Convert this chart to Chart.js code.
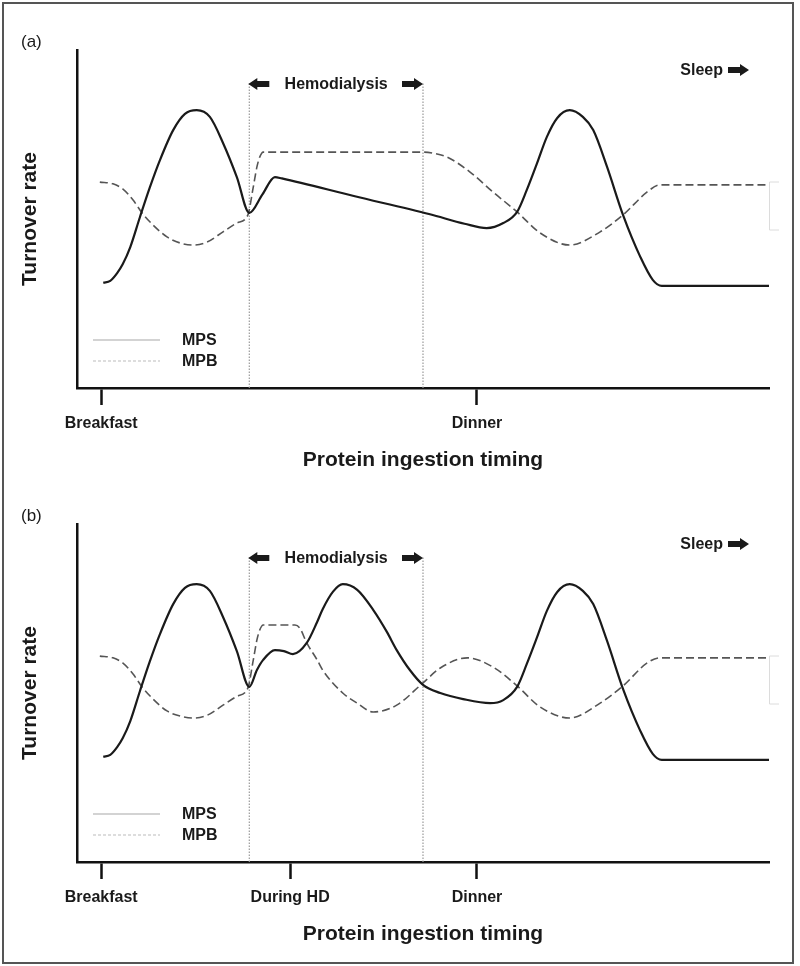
<!DOCTYPE html>
<html>
<head>
<meta charset="utf-8">
<title>Protein ingestion timing</title>
<script src="https://cdn.jsdelivr.net/npm/chart.js@4.4.1/dist/chart.umd.min.js"></script>
<style>
  html, body { margin: 0; padding: 0; background: #fff; }
  body { width: 800px; height: 966px; position: relative; overflow: hidden; }
  .frame { position: absolute; left: 2px; top: 2px; width: 792px; height: 962px; border: 2px solid #555; box-sizing: border-box; }
  canvas { position: absolute; left: 0; }
  #panelA { top: 0; }
  #panelB { top: 474px; }
</style>
</head>
<body>
<div class="frame"></div>
<canvas id="panelA" width="800" height="474"></canvas>
<canvas id="panelB" width="800" height="474"></canvas>
<script>
// time axis is arbitrary (0-100), turnover rate is arbitrary (0-100)

// hemodialysis window and height of its marker lines
const hdWindow = [24.9, 50.0];
const hdTop = 90.2;

// x ticks
const ticksA = [3.5, 57.8];
const tickLabelsA = ['Breakfast', 'Dinner'];
const ticksB = [3.5, 30.8, 57.8];
const tickLabelsB = ['Breakfast', 'During HD', 'Dinner'];

// (a) MPS
const mpsA_x = [3.8, 4.8, 5.8, 6.6, 7.7, 9.1, 10.5, 12.0, 13.9, 15.6, 17.3, 19.2, 21.1, 23.1, 24.9, 26.8, 28.6, 29.6, 40.0, 51.0, 56.0, 59.2, 61.6, 63.6, 65.0, 66.5, 67.9, 69.4, 71.2, 73.1, 74.6, 76.6, 78.9, 81.4, 83.2, 84.5, 100];
const mpsA_y = [31.1, 31.7, 34.0, 36.6, 41.7, 50.6, 59.2, 67.5, 76.3, 81.1, 82.2, 80.2, 72.5, 62.4, 51.8, 57.3, 62.4, 62.0, 56.8, 51.4, 48.6, 47.3, 48.8, 52.1, 58.6, 66.6, 74.3, 79.9, 82.2, 80.2, 76.3, 65.4, 51.2, 38.8, 32.0, 30.2, 30.2];

// (a) MPB
const mpbA_x = [3.3, 5.2, 6.6, 8.1, 9.4, 11.0, 13.0, 14.9, 16.8, 18.8, 21.1, 23.1, 24.7, 25.4, 26.0, 26.4, 26.9, 50.0, 51.4, 53.5, 56.8, 60.1, 63.6, 66.9, 71.2, 75.6, 78.9, 82.4, 84.2, 100];
const mpbA_y = [60.9, 60.4, 58.9, 55.6, 51.8, 48.2, 44.7, 42.9, 42.3, 43.2, 46.2, 48.8, 51.2, 58.6, 65.4, 68.3, 69.8, 69.8, 69.5, 68.3, 63.9, 58.0, 52.1, 45.9, 42.3, 46.2, 51.2, 58.0, 60.1, 60.1];

// (b) MPS
const mpsB_x = [3.8, 4.8, 5.8, 6.6, 7.7, 9.1, 10.5, 12.0, 13.9, 15.6, 17.3, 19.2, 21.1, 23.1, 24.9, 26.0, 26.9, 28.6, 29.9, 31.2, 33.2, 34.7, 35.5, 37.0, 38.4, 40.5, 42.8, 44.8, 46.2, 48.1, 50.0, 52.5, 55.8, 59.7, 61.6, 63.6, 65.0, 66.5, 67.9, 69.4, 71.2, 73.1, 74.6, 76.6, 78.9, 81.4, 83.2, 84.5, 100];
const mpsB_y = [31.1, 31.7, 34.0, 36.6, 41.7, 50.6, 59.2, 67.5, 76.3, 81.1, 82.2, 80.2, 72.5, 62.4, 51.8, 56.8, 59.8, 62.7, 62.4, 61.5, 64.8, 71.0, 74.8, 80.0, 82.2, 80.5, 74.6, 68.0, 62.7, 56.8, 52.4, 50.0, 48.2, 47.0, 47.9, 51.8, 58.6, 66.6, 74.3, 79.9, 82.2, 80.2, 76.3, 65.4, 51.2, 38.8, 32.0, 30.2, 30.2];

// (b) MPB
const mpbB_x = [3.3, 5.2, 6.6, 8.1, 9.4, 11.0, 13.0, 14.9, 16.8, 18.8, 21.1, 23.1, 24.7, 25.4, 26.0, 26.4, 26.9, 31.5, 32.2, 33.2, 34.7, 35.5, 38.4, 40.5, 42.8, 46.2, 50.0, 52.5, 56.4, 60.1, 63.6, 66.9, 71.2, 75.6, 78.9, 82.4, 84.2, 100];
const mpbB_y = [60.9, 60.4, 58.9, 55.6, 51.8, 48.2, 44.7, 43.2, 42.6, 43.4, 46.4, 49.0, 51.5, 58.9, 65.7, 68.6, 70.1, 70.1, 69.2, 64.8, 59.8, 56.8, 50.0, 47.0, 44.4, 46.4, 53.0, 57.4, 60.4, 57.7, 52.1, 45.9, 42.6, 47.0, 52.1, 58.9, 60.4, 60.4];

const FONT = '"Liberation Sans", Arial, sans-serif';
Chart.defaults.font.family = FONT;

// block arrow, dir = -1 points left, 1 points right
function drawArrow(ctx, tipX, cy, dir) {
  const head = 9, len = 21, hh = 6, sh = 3;
  ctx.beginPath();
  ctx.moveTo(tipX, cy);
  ctx.lineTo(tipX - dir * head, cy - hh);
  ctx.lineTo(tipX - dir * head, cy - sh);
  ctx.lineTo(tipX - dir * len, cy - sh);
  ctx.lineTo(tipX - dir * len, cy + sh);
  ctx.lineTo(tipX - dir * head, cy + sh);
  ctx.lineTo(tipX - dir * head, cy + hh);
  ctx.closePath();
  ctx.fill();
}

// panel label, hemodialysis / sleep markers and the legend
const annotations = {
  id: 'annotations',
  afterDatasetsDraw(chart, args, opts) {
    const { ctx, chartArea: area, scales: { x, y } } = chart;
    ctx.save();
    ctx.fillStyle = '#1a1a1a';
    ctx.textBaseline = 'alphabetic';

    ctx.font = '17px ' + FONT;
    ctx.textAlign = 'left';
    ctx.fillText(opts.label, 21, area.top - 3);

    // hemodialysis
    const xs = x.getPixelForValue(hdWindow[0]);
    const xe = x.getPixelForValue(hdWindow[1]);
    const ya = y.getPixelForValue(hdTop) + 1;
    drawArrow(ctx, xs - 1, ya, -1);
    drawArrow(ctx, xe, ya, 1);
    ctx.font = 'bold 16px ' + FONT;
    ctx.textAlign = 'center';
    ctx.fillText('Hemodialysis', (xs + xe) / 2, ya + 5);

    // sleep
    const sx = area.right - 20;
    const sy = area.top + 20;
    drawArrow(ctx, sx, sy, 1);
    ctx.textAlign = 'right';
    ctx.fillText('Sleep', sx - 26, sy + 5);

    // legend
    const lx = area.left + 16;
    ctx.lineWidth = 1.2;
    ctx.strokeStyle = '#a8a8a8';
    ctx.beginPath();
    ctx.moveTo(lx, area.bottom - 48);
    ctx.lineTo(lx + 67, area.bottom - 48);
    ctx.stroke();
    ctx.setLineDash([3, 2]);
    ctx.strokeStyle = '#bbb';
    ctx.beginPath();
    ctx.moveTo(lx, area.bottom - 27);
    ctx.lineTo(lx + 67, area.bottom - 27);
    ctx.stroke();
    ctx.setLineDash([]);
    ctx.textAlign = 'left';
    ctx.fillText('MPS', lx + 89, area.bottom - 43);
    ctx.fillText('MPB', lx + 89, area.bottom - 22);

    // faint bracket on the right edge
    ctx.strokeStyle = '#dcdcdc';
    ctx.lineWidth = 1;
    ctx.beginPath();
    ctx.moveTo(area.right + 10, area.top + 132);
    ctx.lineTo(area.right + 0.5, area.top + 132);
    ctx.lineTo(area.right + 0.5, area.top + 180);
    ctx.lineTo(area.right + 10, area.top + 180);
    ctx.stroke();
    ctx.restore();
  }
};

function toPoints(xs, ys) {
  return xs.map((v, i) => ({ x: v, y: ys[i] }));
}

function buildPanel(canvasId, panelLabel, mpsX, mpsY, mpbX, mpbY, tickValues, tickLabels) {
  const hdLine = v => ({
    label: 'HD',
    data: toPoints([v, v], [0, hdTop]),
    borderColor: '#9a9a9a',
    borderWidth: 1.2,
    borderDash: [1.5, 1.5]
  });

  return new Chart(document.getElementById(canvasId), {
    type: 'line',
    data: {
      datasets: [
        {
          label: 'MPS',
          data: toPoints(mpsX, mpsY),
          borderColor: '#1a1a1a',
          borderWidth: 2.2,
          cubicInterpolationMode: 'monotone'
        },
        {
          label: 'MPB',
          data: toPoints(mpbX, mpbY),
          borderColor: '#555',
          borderWidth: 1.6,
          borderDash: [8, 4],
          cubicInterpolationMode: 'monotone'
        },
        hdLine(hdWindow[0]),
        hdLine(hdWindow[1])
      ]
    },
    options: {
      responsive: false,
      animation: false,
      devicePixelRatio: 1,
      layout: { padding: { left: 0, right: 31, top: 50, bottom: 0 } },
      elements: { point: { radius: 0 } },
      plugins: {
        legend: { display: false },
        tooltip: { enabled: false },
        annotations: { label: panelLabel }
      },
      scales: {
        x: {
          type: 'linear',
          min: 0,
          max: 100,
          afterFit: s => { s.height = 86; },
          afterBuildTicks: s => { s.ticks = tickValues.map(v => ({ value: v })); },
          ticks: {
            autoSkip: false,
            maxRotation: 0,
            padding: 9,
            color: '#1a1a1a',
            font: { size: 16, weight: 'bold' },
            callback: v => tickLabels[tickValues.indexOf(v)]
          },
          grid: { drawOnChartArea: false, tickLength: 17, tickWidth: 2.5, tickColor: '#111' },
          border: { color: '#111', width: 2.5 },
          title: {
            display: true,
            text: 'Protein ingestion timing',
            color: '#1a1a1a',
            font: { size: 21, weight: 'bold' },
            padding: { top: 0, bottom: 1.4 }
          }
        },
        y: {
          min: 0,
          max: 100,
          afterFit: s => { s.width = 77; },
          ticks: { display: false },
          grid: { display: false },
          border: { color: '#111', width: 2.5 },
          title: {
            display: true,
            text: 'Turnover rate',
            color: '#1a1a1a',
            font: { size: 21, weight: 'bold' },
            padding: { top: 17.4, bottom: 0 }
          }
        }
      }
    },
    plugins: [annotations]
  });
}

buildPanel('panelA', '(a)', mpsA_x, mpsA_y, mpbA_x, mpbA_y, ticksA, tickLabelsA);
buildPanel('panelB', '(b)', mpsB_x, mpsB_y, mpbB_x, mpbB_y, ticksB, tickLabelsB);
</script>
</body>
</html>
